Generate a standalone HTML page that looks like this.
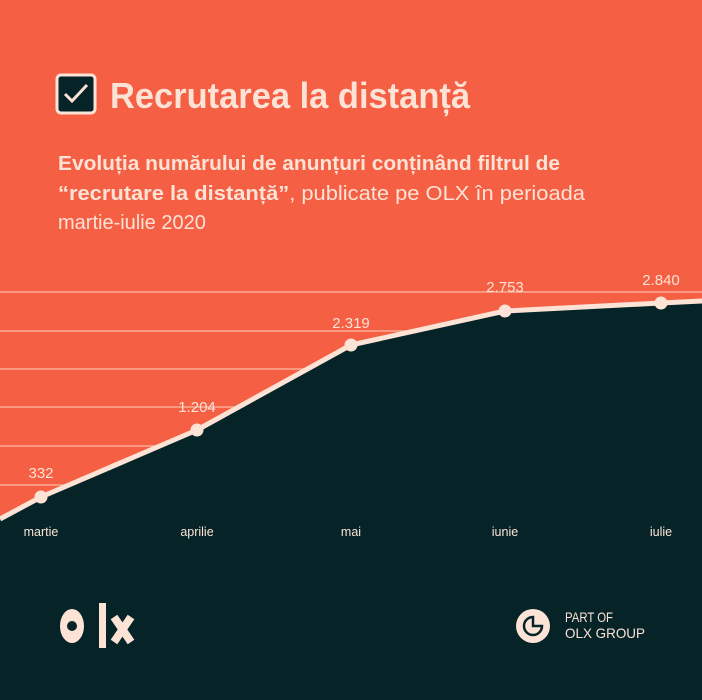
<!DOCTYPE html>
<html><head><meta charset="utf-8"><style>
html,body{margin:0;padding:0;background:#062328;}
svg{display:block}
</style></head><body>
<svg width="702" height="700" viewBox="0 0 702 700" xmlns="http://www.w3.org/2000/svg" font-family="Liberation Sans, sans-serif">
<rect width="702" height="700" fill="#F55F44"/>
<g stroke="#FBC3B0" stroke-width="1.2" opacity="0.9">
<line x1="0" y1="292" x2="702" y2="292"/>
<line x1="0" y1="331" x2="702" y2="331"/>
<line x1="0" y1="369" x2="702" y2="369"/>
<line x1="0" y1="407" x2="702" y2="407"/>
<line x1="0" y1="446" x2="702" y2="446"/>
<line x1="0" y1="485" x2="702" y2="485"/>
</g>
<polygon points="0,519 41,497 197,430 351,345 505,311 661,303 702,301 702,700 0,700" fill="#062328"/>
<polyline points="0,519 41,497 197,430 351,345 505,311 661,303 702,301" fill="none" stroke="#FCE3D6" stroke-width="5" stroke-linejoin="round"/>
<g fill="#FCE3D6">
<circle cx="41" cy="497" r="6.5"/><circle cx="197" cy="430" r="6.5"/><circle cx="351" cy="345" r="6.5"/><circle cx="505" cy="311" r="6.5"/><circle cx="661" cy="303" r="6.5"/>
</g>
<g fill="#FCE3D6" font-size="15" text-anchor="middle">
<text x="41" y="478">332</text>
<text x="197" y="412">1.204</text>
<text x="351" y="328">2.319</text>
<text x="505" y="292">2.753</text>
<text x="661" y="285">2.840</text>
</g>
<g fill="#FCE3D6" font-size="12.5" text-anchor="middle">
<text x="41" y="536">martie</text>
<text x="197" y="536">aprilie</text>
<text x="351" y="536">mai</text>
<text x="505" y="536">iunie</text>
<text x="661" y="536">iulie</text>
</g>
<rect x="57" y="75" width="38" height="38" rx="4" fill="#062328" stroke="#FCE3D6" stroke-width="3"/>
<polyline points="65,94 72,101 87,85" fill="none" stroke="#FCE3D6" stroke-width="3"/>
<text x="110" y="108" font-size="36" font-weight="bold" fill="#FCE3D6" textLength="360" lengthAdjust="spacingAndGlyphs">Recrutarea la distanță</text>
<g font-size="20" fill="#FCE3D6">
<text x="58" y="170" font-weight="bold" textLength="502" lengthAdjust="spacingAndGlyphs">Evoluția numărului de anunțuri conținând filtrul de</text>
<text x="58" y="200" textLength="527" lengthAdjust="spacingAndGlyphs"><tspan font-weight="bold">“recrutare la distanță”</tspan>, publicate pe OLX în perioada</text>
<text x="58" y="229">martie-iulie 2020</text>
</g>
<g fill="#FCE3D6">
<ellipse cx="72" cy="626" rx="12" ry="17"/>
<rect x="99" y="603" width="7" height="45"/>
</g>
<circle cx="72" cy="626" r="5" fill="#062328"/>
<g stroke="#FCE3D6" stroke-width="8">
<line x1="114" y1="617" x2="131" y2="642"/>
<line x1="131" y1="617" x2="114" y2="642"/>
</g>
<circle cx="533" cy="626" r="17" fill="#FCE3D6"/>
<path d="M533 617 A9 9 0 1 0 542 626 L533 626 Z" fill="none" stroke="#062328" stroke-width="2.5"/>
<g fill="#FCE3D6" font-size="14">
<text x="565" y="622" textLength="48" lengthAdjust="spacingAndGlyphs">PART OF</text>
<text x="565" y="638" textLength="80" lengthAdjust="spacingAndGlyphs">OLX GROUP</text>
</g>
</svg>
</body></html>
